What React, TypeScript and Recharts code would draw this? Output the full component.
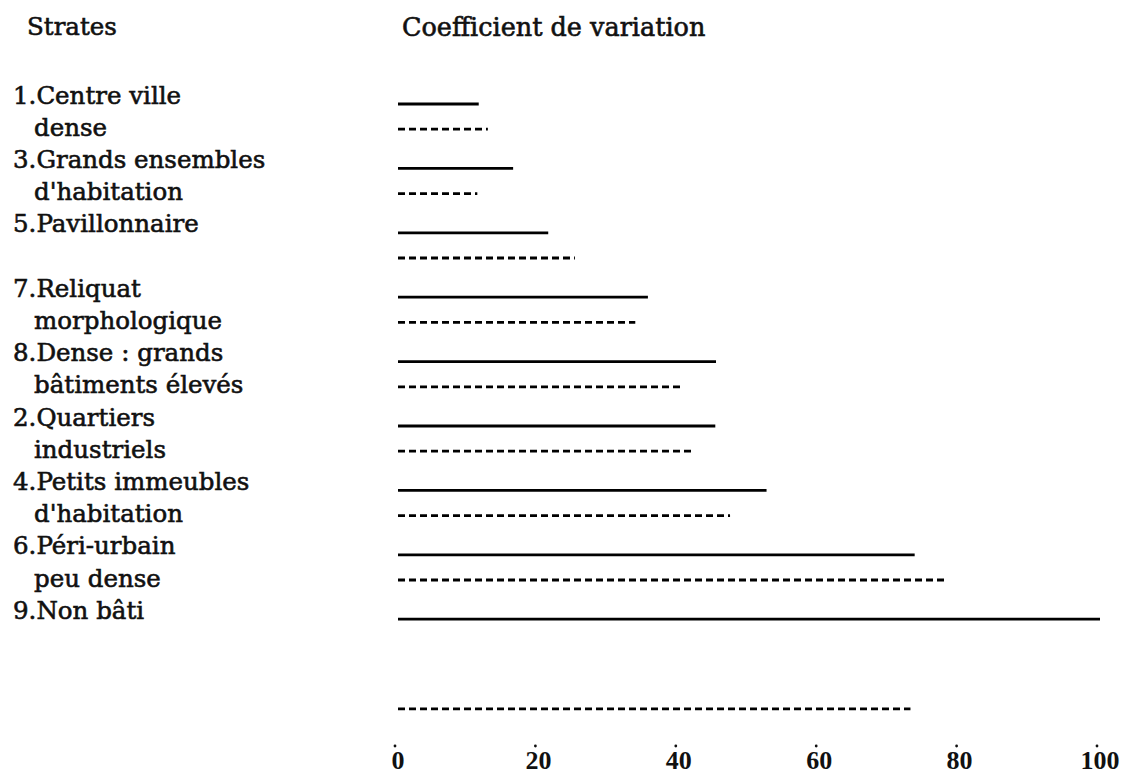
import { ComposedChart, Bar, XAxis, YAxis } from 'recharts';

// one entry per printed row of the figure (blank = no label on that row)
const rowLabels = [
  '1.Centre ville',
  'dense',
  '3.Grands ensembles',
  "d'habitation",
  '5.Pavillonnaire',
  '',
  '7.Reliquat',
  'morphologique',
  '8.Dense : grands',
  'bâtiments élevés',
  '2.Quartiers',
  'industriels',
  '4.Petits immeubles',
  "d'habitation",
  '6.Péri-urbain',
  'peu dense',
  '9.Non bâti',
  '',
  '',
  '',
];

// coefficient of variation, solid line
const solidCV = [
  11.5, null, 16.4, null, 21.4, null, 35.6, null, 45.3, null,
  45.2, null, 52.5, null, 73.6, null, 100, null, null, null,
];

// coefficient of variation, dashed line
const dashedCV = [
  null, 12.8, null, 11.3, null, 25.2, null, 33.8, null, 40.5,
  null, 42.2, null, 47.3, null, 77.8, null, null, null, 73,
];

const xTicks = [0, 20, 40, 60, 80, 100];

const rows = rowLabels.map((label, i) => ({
  row: i,
  label,
  cv: solidCV[i] ?? dashedCV[i],
  dashed: dashedCV[i] != null,
}));

const FONT = '"DejaVu Serif", serif';

function StrokeShape(props: any) {
  const { x, y, width, height, payload } = props;
  if (payload?.cv == null || !width) return null;
  const cy = y + height / 2 + (payload.dashed ? 2 : 9);
  return (
    <line
      x1={x}
      x2={x + width}
      y1={cy}
      y2={cy}
      stroke="#000"
      strokeWidth={2.8}
      strokeDasharray={payload.dashed ? '7 4' : undefined}
    />
  );
}

function RowTick({ y, payload }: any) {
  const label = rowLabels[payload.value] ?? '';
  if (!label) return null;
  const indent = /^\d/.test(label) ? 13 : 34;
  return (
    <text
      x={indent}
      y={y}
      dy="0.35em"
      fontFamily={FONT}
      fontSize={24.5}
      fill="#111"
      stroke="#111"
      strokeWidth={0.6}
      textAnchor="start"
    >
      {label}
    </text>
  );
}

function ValueTick({ x, y, payload }: any) {
  return (
    <g>
      <circle cx={x - 3} cy={y + 23} r={1.4} fill="#111" />
      <text
        x={x}
        y={y + 37}
        dy="0.35em"
        textAnchor="middle"
        fontFamily='"Liberation Serif", serif'
        fontWeight="bold"
        fontSize={26}
        fill="#111"
      >
        {payload.value}
      </text>
    </g>
  );
}

const headStyle = {
  position: 'absolute' as const,
  top: 13,
  fontFamily: FONT,
  fontSize: 24.5,
  color: '#111',
  lineHeight: '28px',
  whiteSpace: 'nowrap' as const,
  WebkitTextStroke: '0.6px #111',
};

export default function App() {
  return (
    <div style={{ position: 'absolute', left: 0, top: 0, width: 1137, height: 779, background: '#fff' }}>
      <div style={{ ...headStyle, left: 27 }}>Strates</div>
      <div style={{ ...headStyle, left: 402, fontSize: 25.5 }}>Coefficient de variation</div>
      <ComposedChart
        width={1137}
        height={779}
        data={rows}
        layout="vertical"
        margin={{ top: 79, right: 37, bottom: 0, left: 0 }}
        barCategoryGap={4}
      >
        <XAxis
          type="number"
          domain={[0, 100]}
          ticks={xTicks}
          axisLine={false}
          tickLine={false}
          tickSize={0}
          tickMargin={0}
          height={56}
          tick={<ValueTick />}
          interval={0}
        />
        <YAxis
          type="category"
          dataKey="row"
          width={398}
          axisLine={false}
          tickLine={false}
          interval={0}
          tick={<RowTick />}
        />
        <Bar dataKey="cv" shape={<StrokeShape />} isAnimationActive={false} />
      </ComposedChart>
    </div>
  );
}
